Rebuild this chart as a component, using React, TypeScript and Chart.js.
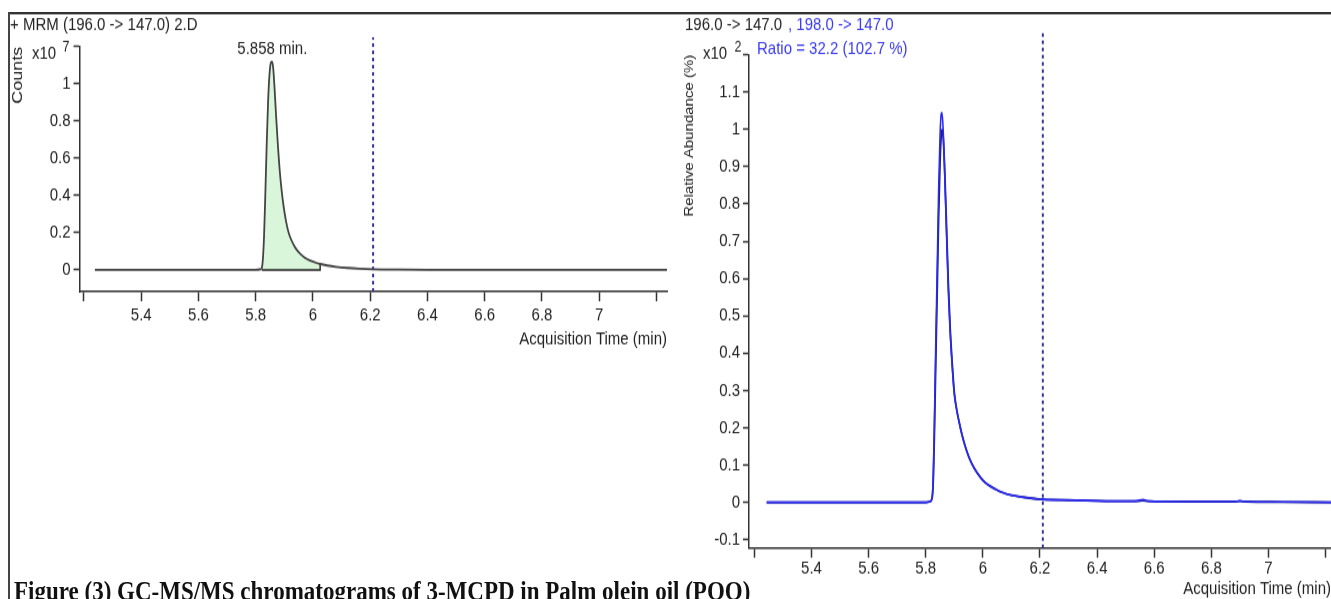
import React, { useEffect, useRef } from 'react';
import { Chart, registerables } from 'chart.js';

Chart.register(...registerables);

// ---------------- DATA ----------------
// Left panel: + MRM (196.0 -> 147.0) 2.D, Counts x10^7
const leftTime = [5.238, 5.4, 5.6, 5.8, 5.815, 5.821, 5.825, 5.829, 5.833, 5.838, 5.843, 5.848, 5.853, 5.857, 5.861, 5.866, 5.871, 5.877, 5.884, 5.891, 5.898, 5.906, 5.915, 5.926, 5.938, 5.952, 5.97, 5.99, 6.008, 6.025, 6.05, 6.08, 6.12, 6.16, 6.21, 6.3, 6.4, 6.6, 6.8, 7.0, 7.1, 7.2, 7.24];
const leftCounts = [0, 0, 0, 0, 0.003, 0.01, 0.06, 0.18, 0.38, 0.66, 0.9, 1.05, 1.115, 1.12, 1.085, 0.97, 0.83, 0.68, 0.53, 0.42, 0.335, 0.26, 0.2, 0.155, 0.12, 0.092, 0.067, 0.05, 0.04, 0.032, 0.024, 0.017, 0.011, 0.007, 0.004, 0.002, 0.001, 0.001, 0, 0, 0, 0, 0];
const leftPeakStart = 5.821;
const leftPeakEnd = 6.025;
const leftPeakRT = 5.858;
const leftPeakLabel = '5.858 min.';
const leftXTicks = [5.2, 5.4, 5.6, 5.8, 6.0, 6.2, 6.4, 6.6, 6.8, 7.0, 7.2];
const leftXTickLabels = ['', '5.4', '5.6', '5.8', '6', '6.2', '6.4', '6.6', '6.8', '7', ''];
const leftYTicks = [0, 0.2, 0.4, 0.6, 0.8, 1.0, 1.2];
const leftYTickLabels = ['0', '0.2', '0.4', '0.6', '0.8', '1', ''];

// Right panel: 196.0 -> 147.0 , 198.0 -> 147.0 (Relative Abundance x10^2 %)
const rightTime = [5.243, 5.4, 5.6, 5.8, 5.815, 5.822, 5.826, 5.83, 5.835, 5.84, 5.845, 5.85, 5.854, 5.857, 5.861, 5.866, 5.872, 5.879, 5.886, 5.893, 5.9, 5.908, 5.917, 5.928, 5.94, 5.952, 5.966, 5.982, 6.0, 6.02, 6.045, 6.07, 6.1, 6.14, 6.18, 6.21, 6.3, 6.4, 6.5, 6.54, 6.56, 6.58, 6.7, 6.88, 6.9, 6.92, 7.05, 7.219];
const rightQuant196 = [0, 0, 0, 0, 0.002, 0.01, 0.05, 0.17, 0.37, 0.56, 0.76, 0.91, 0.98, 1.0, 0.98, 0.9, 0.76, 0.59, 0.46, 0.37, 0.295, 0.25, 0.215, 0.178, 0.146, 0.12, 0.097, 0.077, 0.059, 0.046, 0.035, 0.026, 0.019, 0.014, 0.01, 0.008, 0.006, 0.004, 0.003, 0.003, 0.005, 0.003, 0.002, 0.002, 0.003, 0.002, 0.001, 0];
const rightQual198 = [0, 0, 0, 0, 0.002, 0.012, 0.06, 0.2, 0.42, 0.62, 0.83, 0.98, 1.04, 1.045, 1.0, 0.89, 0.74, 0.57, 0.45, 0.36, 0.29, 0.25, 0.215, 0.178, 0.146, 0.12, 0.097, 0.077, 0.059, 0.046, 0.035, 0.026, 0.019, 0.014, 0.01, 0.008, 0.006, 0.004, 0.003, 0.004, 0.007, 0.003, 0.002, 0.002, 0.004, 0.002, 0.001, 0];
const rightXTicks = [5.2, 5.4, 5.6, 5.8, 6.0, 6.2, 6.4, 6.6, 6.8, 7.0, 7.2];
const rightXTickLabels = ['', '5.4', '5.6', '5.8', '6', '6.2', '6.4', '6.6', '6.8', '7', ''];
const rightYTicks = [-0.1, 0, 0.1, 0.2, 0.3, 0.4, 0.5, 0.6, 0.7, 0.8, 0.9, 1.0, 1.1, 1.2];
const rightYTickLabels = ['-0.1', '0', '0.1', '0.2', '0.3', '0.4', '0.5', '0.6', '0.7', '0.8', '0.9', '1', '1.1', ''];

const markerTime = 6.21;

const leftTitle = '+ MRM (196.0 -> 147.0) 2.D';
const rightTitleA = '196.0 -> 147.0';
const rightTitleB = ', 198.0 -> 147.0';
const rightRatio = 'Ratio = 32.2 (102.7 %)';
const xAxisTitle = 'Acquisition Time (min)';
const leftYTitle = 'Counts';
const rightYTitle = 'Relative Abundance (%)';
const leftExp = '7';
const rightExp = '2';
const caption = 'Figure (3) GC-MS/MS chromatograms of 3-MCPD in Palm olein oil (POO)';

// ---------------- STYLE ----------------
const K = 1.2; // vertical stretch of the original figure
const FONT = '"Liberation Sans", Arial, sans-serif';
const AXIS = '#333333';
const TEXT = '#222222';
const BLUE = '#3a3af0';

const pts = (xs: number[], ys: number[]) => xs.map((x, i) => ({ x, y: ys[i] }));

const axisCommon = (ticks: number[], labels: string[]) => ({
  type: 'linear' as const,
  afterBuildTicks: (s: any) => {
    s.ticks = ticks.map((v) => ({ value: v }));
  },
  ticks: {
    autoSkip: false,
    maxRotation: 0,
    color: TEXT,
    font: { family: FONT, size: 15 },
    callback: (_v: any, i: number) => labels[i],
  },
  border: { display: true, color: AXIS, width: 1.5 },
});

const textPlugin = (draw: (ctx: CanvasRenderingContext2D, chart: any) => void) => ({
  id: 'customTexts',
  afterDraw(chart: any) {
    const ctx = chart.ctx as CanvasRenderingContext2D;
    ctx.save();
    draw(ctx, chart);
    ctx.restore();
  },
});

function txt(ctx: CanvasRenderingContext2D, s: string, x: number, y: number, color: string, size = 15, align: CanvasTextAlign = 'left') {
  ctx.font = `${size}px ${FONT}`;
  ctx.fillStyle = color;
  ctx.textAlign = align;
  ctx.textBaseline = 'middle';
  ctx.fillText(s, x, y);
}

function leftConfig(): any {
  const W = 680, H = 300;
  const top = 38.9, bottom = 243.1, left = 79.5, right = 667;
  const peakIdx = leftTime.map((t, i) => i).filter((i) => leftTime[i] >= leftPeakStart && leftTime[i] <= leftPeakEnd);
  const endVal = leftCounts[leftTime.indexOf(leftPeakEnd)];
  return {
    W, H,
    config: {
      type: 'line',
      data: {
        datasets: [
          {
            data: pts(leftTime, leftCounts),
            borderColor: '#444444', borderWidth: 1.8, pointRadius: 0,
            cubicInterpolationMode: 'monotone', fill: false, order: 1,
          },
          {
            data: [{ x: leftPeakEnd, y: endVal }, { x: leftPeakEnd, y: 0 }, { x: leftPeakStart, y: 0 }],
            borderColor: '#222', borderWidth: 1.4, pointRadius: 0, tension: 0, fill: false, order: 2,
          },
          {
            data: [{ x: markerTime, y: -0.117 }, { x: markerTime, y: 1.25 }],
            borderColor: '#30309c', borderWidth: 2, borderDash: [3, 3], pointRadius: 0, fill: false, clip: false, order: 3,
          },
          {
            data: peakIdx.map((i) => ({ x: leftTime[i], y: leftCounts[i] })),
            borderColor: 'rgba(0,0,0,0)', borderWidth: 0, backgroundColor: '#daf6da', pointRadius: 0,
            cubicInterpolationMode: 'monotone', fill: 'origin', order: 4,
          },
        ],
      },
      options: {
        animation: false,
        responsive: false,
        layout: { padding: { top, left: 0, right: W - right, bottom: 0 } },
        plugins: { legend: { display: false }, tooltip: { enabled: false } },
        scales: {
          x: {
            ...axisCommon(leftXTicks, leftXTickLabels),
            min: 5.1843, max: 7.2367,
            afterFit: (s: any) => { s.height = H - bottom; },
            grid: { display: true, drawOnChartArea: false, drawTicks: true, tickLength: 8, color: AXIS, tickWidth: 1.5 },
            ticks: { ...axisCommon(leftXTicks, leftXTickLabels).ticks, padding: 3 },
            title: { display: true, text: xAxisTitle, align: 'end', color: TEXT, font: { family: FONT, size: 15 }, padding: { top: 0, bottom: 7.7 } },
          },
          y: {
            ...axisCommon(leftYTicks, leftYTickLabels),
            min: -0.117, max: 1.2,
            afterFit: (s: any) => { s.width = left; },
            grid: { display: true, drawOnChartArea: false, drawTicks: true, tickLength: 6, color: AXIS, tickWidth: 1.5 },
            ticks: { ...axisCommon(leftYTicks, leftYTickLabels).ticks, padding: 3 },
            title: { display: true, text: leftYTitle, align: 'end', color: TEXT, font: { family: FONT, size: 15 }, padding: { top: 9, bottom: 0 } },
          },
        },
      },
      plugins: [
        textPlugin((ctx, chart) => {
          txt(ctx, leftTitle, 10, 21, TEXT);
          txt(ctx, 'x10', 32, 44.6, TEXT);
          txt(ctx, leftExp, 62.5, 39.6, TEXT, 12.5);
          const xs = chart.scales.x, ys = chart.scales.y;
          const peak = Math.max(...leftCounts);
          txt(ctx, leftPeakLabel, xs.getPixelForValue(leftPeakRT), ys.getPixelForValue(peak) - 10.5, TEXT, 15, 'center');
        }),
      ],
    },
  };
}

function rightConfig(): any {
  const W = 661, H = 500;
  const top = 45.65, bottom = 456.7, left = 79;
  return {
    W, H,
    config: {
      type: 'line',
      data: {
        datasets: [
          {
            data: pts(rightTime, rightQual198),
            borderColor: '#2a2af5', borderWidth: 1.6, pointRadius: 0,
            cubicInterpolationMode: 'monotone', fill: false, order: 1,
          },
          {
            data: pts(rightTime, rightQuant196),
            borderColor: '#1e1e70', borderWidth: 1.8, pointRadius: 0,
            cubicInterpolationMode: 'monotone', fill: false, order: 2,
          },
          {
            data: [{ x: markerTime, y: -0.1226 }, { x: markerTime, y: 1.258 }],
            borderColor: '#30309c', borderWidth: 2, borderDash: [3, 3], pointRadius: 0, fill: false, clip: false, order: 3,
          },
        ],
      },
      options: {
        animation: false,
        responsive: false,
        layout: { padding: { top, left: 0, right: 0, bottom: 0 } },
        plugins: { legend: { display: false }, tooltip: { enabled: false } },
        scales: {
          x: {
            ...axisCommon(rightXTicks, rightXTickLabels),
            min: 5.1812, max: 7.219,
            afterFit: (s: any) => { s.height = H - bottom; },
            grid: { display: true, drawOnChartArea: false, drawTicks: true, tickLength: 8, color: AXIS, tickWidth: 1.5 },
            ticks: { ...axisCommon(rightXTicks, rightXTickLabels).ticks, padding: 0 },
            title: { display: true, text: xAxisTitle, align: 'end', color: TEXT, font: { family: FONT, size: 15, lineHeight: 1.2 }, padding: { top: 0, bottom: 0.2 } },
          },
          y: {
            ...axisCommon(rightYTicks, rightYTickLabels),
            min: -0.1226, max: 1.2,
            afterFit: (s: any) => { s.width = left; },
            grid: { display: true, drawOnChartArea: false, drawTicks: true, tickLength: 6, color: AXIS, tickWidth: 1.5 },
            ticks: { ...axisCommon(rightYTicks, rightYTickLabels).ticks, padding: 3 },
            title: { display: true, text: rightYTitle, align: 'end', color: TEXT, font: { family: FONT, size: 12.5 }, padding: { top: 12.5, bottom: 0 } },
          },
        },
      },
      plugins: [
        textPlugin((ctx) => {
          txt(ctx, rightTitleA, 15, 21, TEXT);
          txt(ctx, rightTitleB, 118, 21, BLUE);
          txt(ctx, rightRatio, 87, 40.8, BLUE);
          txt(ctx, 'x10', 33, 44.6, TEXT);
          txt(ctx, rightExp, 64.5, 39.6, TEXT, 12.5);
        }),
      ],
    },
  };
}

function ChartCanvas({ make, left }: { make: () => any; left: number }) {
  const ref = useRef<HTMLCanvasElement | null>(null);
  const spec = make();
  useEffect(() => {
    const s = make();
    const chart = new Chart(ref.current as HTMLCanvasElement, s.config);
    return () => chart.destroy();
  }, []);
  return (
    <canvas
      ref={ref}
      width={spec.W}
      height={spec.H}
      style={{ position: 'absolute', left, top: 0, width: spec.W + 'px', height: spec.H + 'px' }}
    />
  );
}

export default function App() {
  return (
    <div
      style={{
        position: 'fixed', left: 0, top: 0, width: 1331, height: 500,
        transform: `scaleY(${K})`, transformOrigin: '0 0', overflow: 'hidden', background: '#fff',
      }}
    >
      <div style={{ position: 'absolute', left: 8, top: 10.2, width: 1323, height: 1.7, background: '#333' }} />
      <div style={{ position: 'absolute', left: 7.5, top: 10.2, width: 2, height: 490, background: '#444' }} />
      <ChartCanvas make={leftConfig} left={0} />
      <ChartCanvas make={rightConfig} left={670} />
      <div
        style={{
          position: 'absolute', left: 14, top: 481, whiteSpace: 'nowrap',
          font: `bold 23px/23px "Liberation Serif", "Times New Roman", serif`, color: '#111',
        }}
      >
        {caption}
      </div>
    </div>
  );
}
